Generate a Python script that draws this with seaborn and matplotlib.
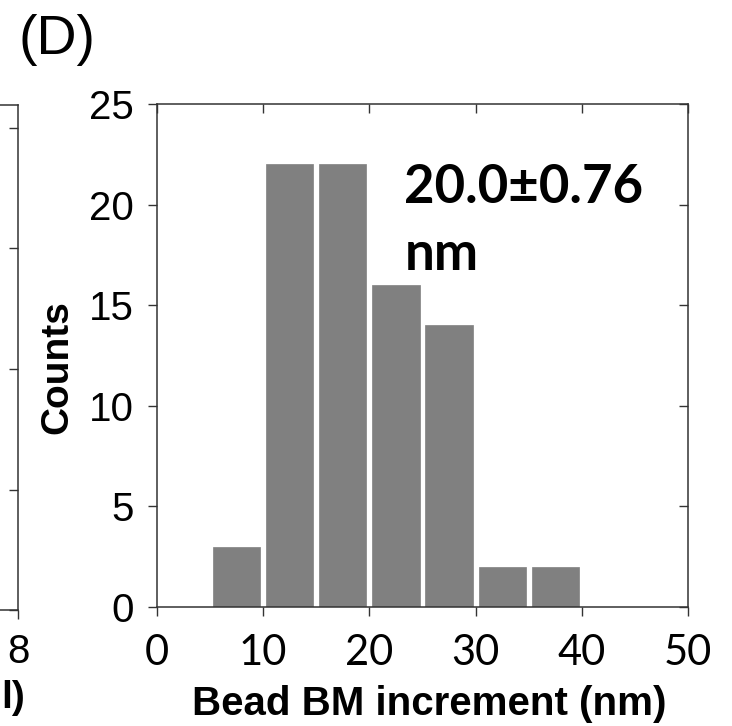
import matplotlib
matplotlib.use("Agg")
import matplotlib.pyplot as plt
import numpy as np
import pandas as pd
import seaborn as sns

# Histogram of bead BM increments: bin centres (nm) and counts per bin
bin_centers = [7.5, 12.5, 17.5, 22.5, 27.5, 32.5, 37.5]
counts = [3, 22, 22, 16, 14, 2, 2]
bin_edges = [5, 10, 15, 20, 25, 30, 35, 40]

x_ticks = [0, 10, 20, 30, 40, 50]
y_ticks = [0, 5, 10, 15, 20, 25]

panel_label = "(D)"
x_label = "Bead BM increment (nm)"
y_label = "Counts"
stat_text = "20.0\u00b10.76\nnm"

sns.set_style("white")
plt.rcParams.update({
    "text.color": "black",
    "axes.labelcolor": "black",
    "xtick.color": "black",
    "ytick.color": "black",
})

W, H = 732, 726
fig = plt.figure(figsize=(W / 100, H / 100), dpi=100)

def frac(l, t, r, b):
    return [l / W, 1 - b / H, (r - l) / W, (b - t) / H]

spine_col = "#333333"
bar_col = "#808080"

# ---- main histogram panel ----
ax = fig.add_axes(frac(157, 104, 688, 607))
df = pd.DataFrame({"increment": bin_centers, "count": counts})
sns.histplot(data=df, x="increment", weights="count", bins=bin_edges,
             shrink=0.89, color=bar_col, edgecolor=bar_col, linewidth=0.5,
             alpha=1.0, ax=ax)
ax.set_xlim(0, 50)
ax.set_ylim(0, 25)
ax.set_xticks(x_ticks)
ax.set_yticks(y_ticks)
ax.set_xticklabels([str(v) for v in x_ticks], fontfamily="Lato", fontsize=30)
ax.set_yticklabels([str(v) for v in y_ticks], fontfamily="Liberation Sans", fontsize=29)
ax.tick_params(axis="both", direction="out", length=6.5, width=1.0,
               color=spine_col, labelcolor="black")
ax.tick_params(axis="x", pad=13, bottom=True)
ax.tick_params(axis="y", pad=10, left=True)
for s in ax.spines.values():
    s.set_visible(True)
    s.set_color(spine_col)
    s.set_linewidth(1.1)

# inward ticks on the top and right edges
top = ax.secondary_xaxis("top")
top.set_xticks(x_ticks)
top.tick_params(direction="in", length=6.5, width=1.0, color=spine_col, labeltop=False)
top.spines["top"].set_visible(False)
right = ax.secondary_yaxis("right")
right.set_yticks(y_ticks)
right.tick_params(direction="in", length=6.5, width=1.0, color=spine_col, labelright=False)
right.spines["right"].set_visible(False)

ax.set_xlabel(x_label, fontfamily="Liberation Sans", fontweight="bold", fontsize=29,
              va="center", color="black")
ax.set_ylabel(y_label, fontfamily="Liberation Sans", fontweight="bold", fontsize=28,
              va="center", color="black")
ax.yaxis.set_label_coords(-0.188, 0.477)
ax.xaxis.set_label_coords(0.513, -0.192)

# mean +/- error annotation; baseline of the last line sits at y = 16.75
ax.text(23.3, 16.75, stat_text, fontfamily="Lato", fontweight="bold",
        fontsize=38, va="baseline", ha="left", linespacing=1.45, color="black")

# ---- neighbouring panel, mostly off the left edge ----
ax0 = fig.add_axes(frac(-420, 105, 18, 610))
ax0.set_xlim(0, 8)
ax0.set_ylim(0, 505 / 120.5)
ax0.set_xticks([8])
ax0.set_xticklabels(["8"], fontfamily="Liberation Sans", fontsize=29)
ax0.set_yticks([0, 1, 2, 3, 4])
ax0.yaxis.tick_right()
ax0.tick_params(axis="y", direction="in", length=6.5, width=1.0,
                color=spine_col, labelright=False, right=True)
ax0.tick_params(axis="x", direction="out", length=6.5, width=1.0,
                color=spine_col, labelcolor="black", pad=10, bottom=True)
for s in ax0.spines.values():
    s.set_visible(True)
    s.set_color(spine_col)
    s.set_linewidth(1.1)
fig.text(1 / W, 1 - 698 / H, "l)", fontfamily="Liberation Sans",
         fontweight="bold", fontsize=28, ha="left", va="center", color="black")

fig.text(18 / W, 1 - 40 / H, panel_label, fontfamily="Liberation Sans",
         fontsize=40, ha="left", va="center", color="black")

fig.savefig("out.png", dpi=100)
